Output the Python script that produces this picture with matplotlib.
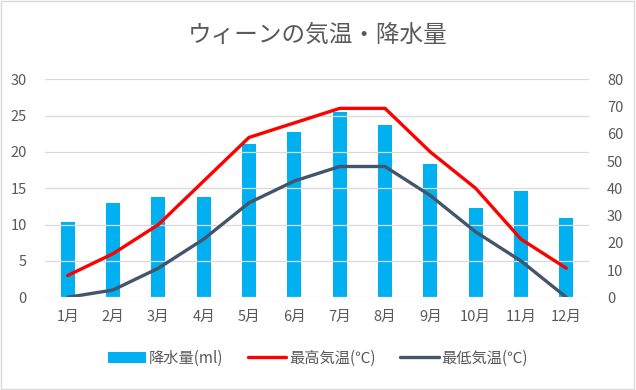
import matplotlib.pyplot as plt
from matplotlib.patches import Rectangle

plt.rcParams['font.family'] = ['Noto Sans CJK JP', 'DejaVu Sans']

# データ
months = ['1月', '2月', '3月', '4月', '5月', '6月', '7月', '8月', '9月', '10月', '11月', '12月']
rain = [27.6, 34.6, 36.8, 36.8, 56.3, 60.7, 68.0, 63.2, 48.9, 32.8, 39.0, 29.1]
t_max = [3, 6, 10, 16, 22, 24, 26, 26, 20, 15, 8, 4]
t_min = [0, 1, 4, 8, 13, 16, 18, 18, 14, 9, 5, 0]

gray = '#595959'
x = list(range(len(months)))

fig = plt.figure(figsize=(6.36, 3.9), dpi=100)
ax = fig.add_axes([45 / 636, 1 - 297.3 / 390, 544 / 636, 218 / 390])
ax2 = ax.twinx()

# 降水量は右軸、気温は左軸
ax2.bar(x, rain, width=0.31, color='#00B0F0', label='降水量(ml)', zorder=2)
ax.plot(x, t_max, color='#FF0000', linewidth=2.4, label='最高気温(℃)',
        solid_capstyle='round', zorder=3)
ax.plot(x, t_min, color='#44546A', linewidth=2.4, label='最低気温(℃)',
        solid_capstyle='round', zorder=3)

ax.set_zorder(ax2.get_zorder() + 1)
ax.patch.set_visible(False)

ax.set_ylim(0, 30)
ax2.set_ylim(0, 80)
ax.set_yticks(range(0, 31, 5))
ax2.set_yticks(range(0, 81, 10))
ax.set_xlim(-0.5, 11.5)
ax.set_xticks(x)
ax.set_xticklabels(months)

for yv in range(0, 31, 5):
    ax.axhline(yv, color='#D9D9D9', linewidth=0.9, zorder=0)

for a in (ax, ax2):
    for s in a.spines.values():
        s.set_visible(False)
    a.tick_params(length=0, colors=gray, labelsize=10.5)
ax.tick_params(axis='y', pad=13)
ax.tick_params(axis='x', pad=9)
ax2.tick_params(axis='y', pad=13)

fig.suptitle('ウィーンの気温・降水量', y=0.94, fontsize=17, color=gray)

h1, l1 = ax2.get_legend_handles_labels()
h2, l2 = ax.get_legend_handles_labels()
fig.legend(h1 + h2, l1 + l2, loc='center', bbox_to_anchor=(0.5, 1 - 358 / 390),
           ncol=3, frameon=False, fontsize=11, labelcolor=gray,
           handlelength=2.5, columnspacing=1.6, handletextpad=0.2)

fig.add_artist(Rectangle((0.002, 0.003), 0.995, 0.994, transform=fig.transFigure,
                         fill=False, edgecolor='#D9D9D9', linewidth=1))

fig.savefig('out.png', dpi=100)
